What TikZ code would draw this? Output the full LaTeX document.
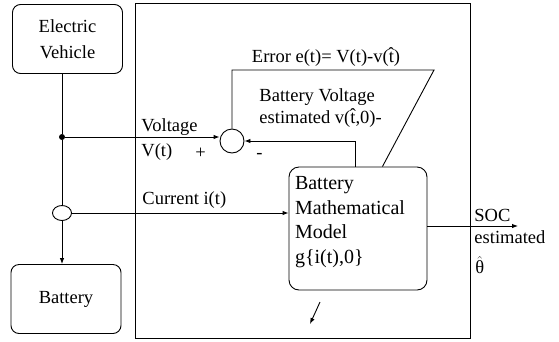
\documentclass[tikz,border=0pt]{standalone}
\usepackage{fontspec}
\setmainfont{Liberation Serif}
\usetikzlibrary{arrows.meta,positioning,shapes.geometric}

\begin{document}
\begin{tikzpicture}[x=1pt, y=-1pt,
    font=\fontsize{18.5}{23}\selectfont,
    line width=0.9pt,
    unit/.style={draw, rounded corners=8pt, align=center, minimum width=110pt,
      minimum height=69pt, inner sep=2pt, font=\fontsize{18.5}{26}\selectfont},
    model/.style={draw, rounded corners=10pt, align=left, text width=126pt,
      minimum height=123pt, inner xsep=6pt, inner ysep=2pt,
      font=\fontsize{20}{24.5}\selectfont},
    sumnode/.style={draw, circle, minimum size=24pt, inner sep=0pt},
    sensor/.style={draw, ellipse, minimum width=19pt, minimum height=15pt, inner sep=0pt},
    tap/.style={circle, fill, inner sep=0pt, minimum size=6pt},
    tag/.style={inner sep=0pt, anchor=west},
    arrow/.style={-{Latex[length=6pt,width=4.5pt]}}
  ]
    \useasboundingbox (0,0) rectangle (559,341);

    \node[draw, minimum width=335pt, minimum height=335pt, inner sep=0pt] (frame) at (302.5,170.5) {};

    \node[unit] (vehicle) at (67.5,39) {Electric\\Vehicle};
    \node[unit] (battery) at (66,299) {Battery};
    \node[model] (model) at (358,228.5)
      {Battery\\Mathematical\\Model\\g\{i(t),0\}\\[-7pt]\mbox{}};

    \node[tap] (tap) at (62,137) {};
    \node[sensor] (sensor) at (62,213) {};
    \node[sumnode] (sum) at (232,141) {};

    \coordinate (errcorner) at (434,70);
    \coordinate (socend) at (518,226);
    \coordinate (strayfrom) at (320,302);
    \coordinate (strayto) at (310,324);

    % labels
    \node[tag] (voltage) at (141,127) {Voltage};
    \node[tag] (vt) at (141,152) {V(t)};
    \node[tag] (plus) at (195,153) {+};
    \node[tag] (minus) at (256,156) {-};
    \node (error) at (326,57) {Error e(t)= V(t)-v(\^{t})};
    \node[tag] (estv) at (259,97) {Battery Voltage};
    \node[tag] (estv2) at (259,118) {estimated v(\^{t},0)-};
    \node[tag] (current) at (142,200) {Current i(t)};
    \node[tag] (soc) at (474,215) {SOC};
    \node[tag] (soc2) at (474,237) {estimated};
    \node[tag] (theta) at (475,265) {$\hat{\mbox{θ}}$};

    % connectors
    \draw (tap |- vehicle.south) -- (tap) -- (sensor);
    \draw[arrow] (sensor) -- (sensor |- battery.north);
    \draw[arrow] (tap) -- (tap -| sum.west);
    \draw[arrow] (sensor.east) -- (sensor.east -| model.west);
    \draw[arrow] ([xshift=67pt]model.north west) |- (sum.east);
    \draw (sum.north) |- (errcorner) -- ([xshift=-45pt]model.north east);
    \draw[arrow] (model.east |- socend) -- (socend);
    \draw[arrow] (strayfrom) -- (strayto);
  \end{tikzpicture}
\end{document}
